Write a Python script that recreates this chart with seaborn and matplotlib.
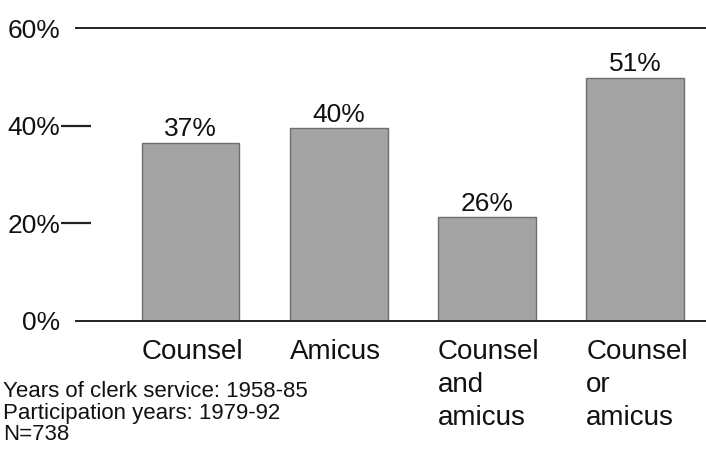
import matplotlib
matplotlib.use("Agg")
import matplotlib.pyplot as plt
import seaborn as sns

## data
categories = ["Counsel", "Amicus", "Counsel and amicus", "Counsel or amicus"]
cat_labels = ["Counsel", "Amicus", "Counsel\nand\namicus", "Counsel\nor\namicus"]
bar_heights = [36.5, 39.5, 21.3, 49.8]   # bar tops as drawn
bar_labels = ["37%", "40%", "26%", "51%"]
y_ticks = [0, 20, 40, 60]
y_tick_labels = ["0%", "20%", "40%", "60%"]
notes = ["Years of clerk service: 1958-85", "Participation years: 1979-92", "N=738"]

sns.set_style("white")
plt.rcParams["font.family"] = ["Liberation Sans", "DejaVu Sans"]

fig = plt.figure(figsize=(7.06, 4.5), dpi=100)
ax = fig.add_axes([76 / 706, 129 / 450, 630 / 706, 293 / 450])

bar_w = 0.66
sns.barplot(x=categories, y=bar_heights, order=categories, color="#a4a4a4",
            saturation=1, width=bar_w, edgecolor="#6e6e6e", linewidth=1.0, ax=ax)

ax.set_xlim(-0.773, 3.478)
ax.set_ylim(0, 60)
ax.set_xlabel("")
ax.set_ylabel("")

## spines: only the 0% and 60% rules
for side in ["left", "right"]:
    ax.spines[side].set_visible(False)
for side in ["top", "bottom"]:
    ax.spines[side].set_visible(True)
    ax.spines[side].set_color("#222222")
    ax.spines[side].set_linewidth(1.4)

ax.set_yticks(y_ticks)
ax.set_yticklabels(y_tick_labels, fontsize=19, color="#111111")
ax.tick_params(axis="y", left=True, direction="inout", length=21, width=1.6,
               pad=1, color="#222222")
ticks = ax.yaxis.get_major_ticks()
ticks[0].tick1line.set_visible(False)
ticks[-1].tick1line.set_visible(False)
ax.tick_params(axis="x", length=0, labelbottom=False)

## value labels
for i, (h, lab) in enumerate(zip(bar_heights, bar_labels)):
    ax.text(i, h + 0.3, lab, ha="center", va="bottom", fontsize=19, color="#111111")

## category labels, left aligned with each bar
trans = ax.get_xaxis_transform()
for i, lab in enumerate(cat_labels):
    ax.text(i - bar_w / 2, -0.06, lab, ha="left", va="top", fontsize=20,
            linespacing=1.36, color="#111111", transform=trans)

fig.text(3 / 706, (450 - 381) / 450, "\n".join(notes), ha="left", va="top",
         fontsize=16, linespacing=1.04, color="#111111")

fig.savefig("out.png", dpi=100)
